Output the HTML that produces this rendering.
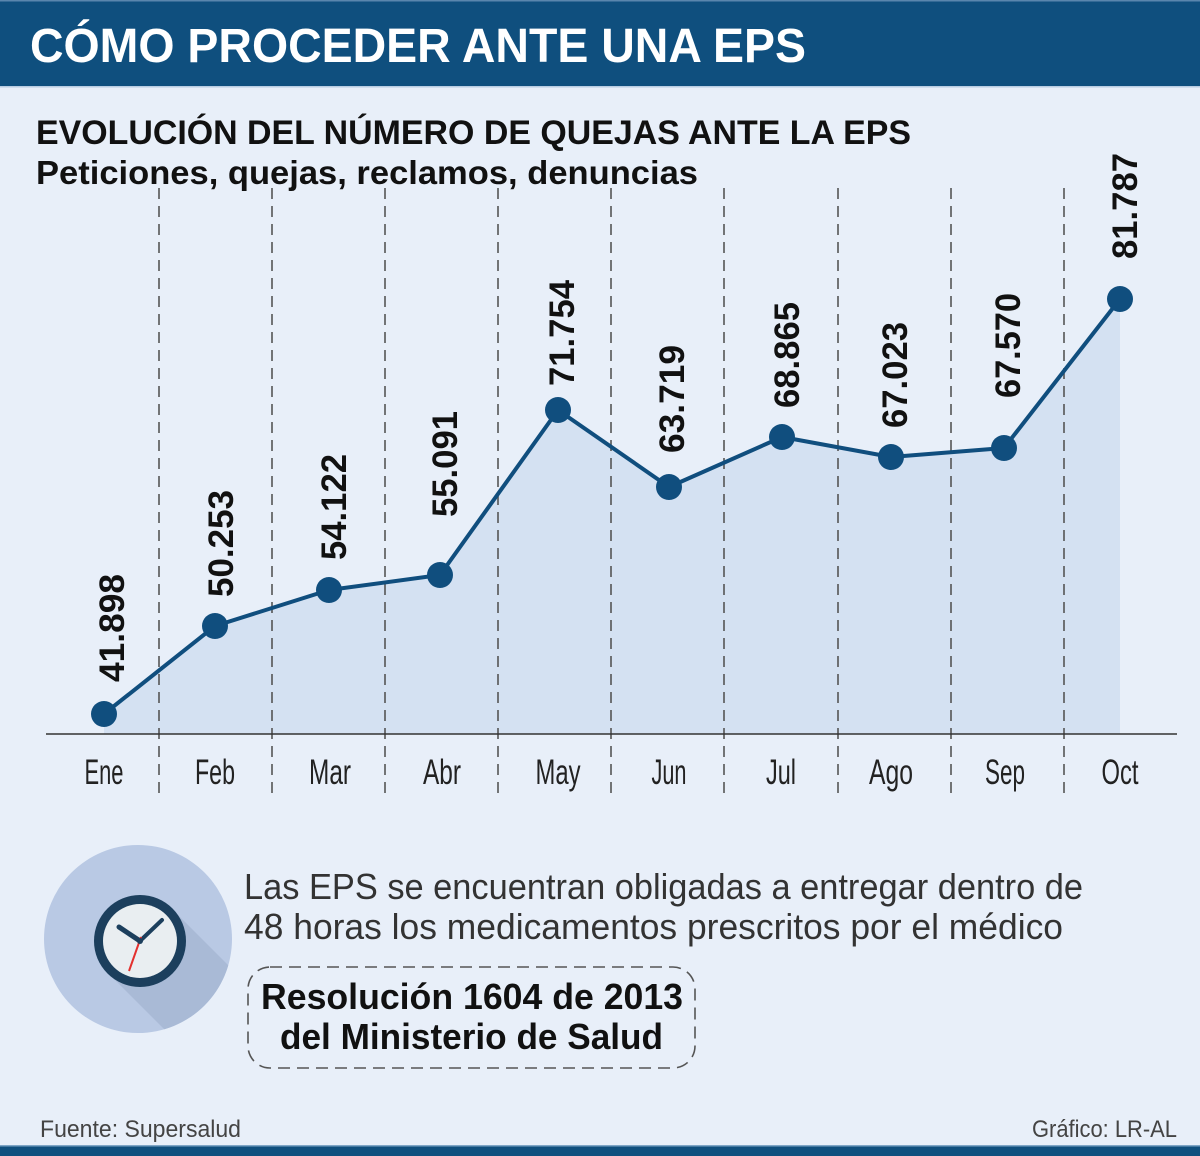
<!DOCTYPE html>
<html><head><meta charset="utf-8"><style>
html,body{margin:0;padding:0;background:#e8eff9;}
svg{display:block;}
text{font-family:"Liberation Sans",sans-serif;}
</style></head><body>
<svg width="1200" height="1156" viewBox="0 0 1200 1156" xmlns="http://www.w3.org/2000/svg">
<rect x="0" y="0" width="1200" height="1156" fill="#e8eff9"/>
<!-- header -->
<rect x="0" y="0" width="1200" height="86" fill="#0f4f7e"/>
<rect x="0" y="0" width="1200" height="1.5" fill="#5a86ad"/>
<rect x="0" y="86" width="1200" height="1.5" fill="#b8cde3"/>
<text x="30" y="62" font-size="48" font-weight="bold" fill="#ffffff" textLength="776" lengthAdjust="spacingAndGlyphs">CÓMO PROCEDER ANTE UNA EPS</text>
<!-- subtitles -->
<text x="36" y="144" font-size="34" font-weight="bold" fill="#111" textLength="875" lengthAdjust="spacingAndGlyphs">EVOLUCIÓN DEL NÚMERO DE QUEJAS ANTE LA EPS</text>
<text x="36" y="184" font-size="33" font-weight="bold" fill="#111" textLength="662" lengthAdjust="spacingAndGlyphs">Peticiones, quejas, reclamos, denuncias</text>
<!-- fill area -->
<polygon points="104,714 215,626 329,590 440,575 558,410 669,487 782,437 891,457 1004,448 1120,299 1120,734 104,734" fill="#d4e1f2"/>
<!-- dashed separators -->
<g stroke="#555" stroke-width="1.6" stroke-dasharray="11 7">
<line x1="159" y1="188" x2="159" y2="800"/>
<line x1="272" y1="188" x2="272" y2="800"/>
<line x1="385" y1="188" x2="385" y2="800"/>
<line x1="498" y1="188" x2="498" y2="800"/>
<line x1="611" y1="188" x2="611" y2="800"/>
<line x1="724" y1="188" x2="724" y2="800"/>
<line x1="838" y1="188" x2="838" y2="800"/>
<line x1="951" y1="188" x2="951" y2="800"/>
<line x1="1064" y1="188" x2="1064" y2="800"/>
</g>
<!-- axis -->
<line x1="46" y1="734" x2="1177" y2="734" stroke="#333" stroke-width="1.6"/>
<!-- series line -->
<polyline points="104,714 215,626 329,590 440,575 558,410 669,487 782,437 891,457 1004,448 1120,299" fill="none" stroke="#104e7e" stroke-width="4" stroke-linejoin="round"/>
<g fill="#104e7e">
<circle cx="104" cy="714" r="13"/>
<circle cx="215" cy="626" r="13"/>
<circle cx="329" cy="590" r="13"/>
<circle cx="440" cy="575" r="13"/>
<circle cx="558" cy="410" r="13"/>
<circle cx="669" cy="487" r="13"/>
<circle cx="782" cy="437" r="13"/>
<circle cx="891" cy="457" r="13"/>
<circle cx="1004" cy="448" r="13"/>
<circle cx="1120" cy="299" r="13"/>
</g>
<!-- value labels -->
<g font-size="35" font-weight="bold" fill="#111">
<text transform="translate(124,682) rotate(-90)" textLength="108" lengthAdjust="spacingAndGlyphs">41.898</text>
<text transform="translate(233,597) rotate(-90)" textLength="107" lengthAdjust="spacingAndGlyphs">50.253</text>
<text transform="translate(346,560) rotate(-90)" textLength="106" lengthAdjust="spacingAndGlyphs">54.122</text>
<text transform="translate(457,517) rotate(-90)" textLength="106" lengthAdjust="spacingAndGlyphs">55.091</text>
<text transform="translate(574,386) rotate(-90)" textLength="106" lengthAdjust="spacingAndGlyphs">71.754</text>
<text transform="translate(684,453) rotate(-90)" textLength="108" lengthAdjust="spacingAndGlyphs">63.719</text>
<text transform="translate(799,408) rotate(-90)" textLength="106" lengthAdjust="spacingAndGlyphs">68.865</text>
<text transform="translate(907,428) rotate(-90)" textLength="106" lengthAdjust="spacingAndGlyphs">67.023</text>
<text transform="translate(1020,398) rotate(-90)" textLength="105" lengthAdjust="spacingAndGlyphs">67.570</text>
<text transform="translate(1137,259) rotate(-90)" textLength="106" lengthAdjust="spacingAndGlyphs">81.787</text>
</g>
<!-- month labels -->
<g font-size="35" fill="#222" text-anchor="middle">
<text x="104" y="784" textLength="39" lengthAdjust="spacingAndGlyphs">Ene</text>
<text x="215" y="784" textLength="40" lengthAdjust="spacingAndGlyphs">Feb</text>
<text x="330" y="784" textLength="42" lengthAdjust="spacingAndGlyphs">Mar</text>
<text x="442" y="784" textLength="38" lengthAdjust="spacingAndGlyphs">Abr</text>
<text x="558" y="784" textLength="45" lengthAdjust="spacingAndGlyphs">May</text>
<text x="669" y="784" textLength="35" lengthAdjust="spacingAndGlyphs">Jun</text>
<text x="781" y="784" textLength="30" lengthAdjust="spacingAndGlyphs">Jul</text>
<text x="891" y="784" textLength="44" lengthAdjust="spacingAndGlyphs">Ago</text>
<text x="1005" y="784" textLength="40" lengthAdjust="spacingAndGlyphs">Sep</text>
<text x="1120" y="784" textLength="37" lengthAdjust="spacingAndGlyphs">Oct</text>
</g>
<!-- clock icon -->
<defs>
<clipPath id="cc"><circle cx="138" cy="939" r="94"/></clipPath>
</defs>
<circle cx="138" cy="939" r="94" fill="#b9c9e4"/>
<g clip-path="url(#cc)">
<polygon points="172,909 300,1037 236,1101 108,973" fill="#a9bad6"/>
</g>
<circle cx="140" cy="941" r="46" fill="#1c3f5d"/>
<circle cx="140" cy="941" r="37" fill="#e9eef1"/>
<line x1="140" y1="941" x2="119" y2="927" stroke="#1c3f5d" stroke-width="5" stroke-linecap="round"/>
<line x1="140" y1="941" x2="162" y2="920" stroke="#1c3f5d" stroke-width="4" stroke-linecap="round"/>
<line x1="141" y1="937" x2="129" y2="971" stroke="#e3302e" stroke-width="2"/>
<circle cx="140" cy="941" r="3" fill="#1c3f5d"/>
<!-- paragraph -->
<text x="244" y="899" font-size="36" fill="#333" textLength="839" lengthAdjust="spacingAndGlyphs">Las EPS se encuentran obligadas a entregar dentro de</text>
<text x="244" y="939" font-size="36" fill="#333" textLength="819" lengthAdjust="spacingAndGlyphs">48 horas los medicamentos prescritos por el médico</text>
<!-- resolution box -->
<rect x="248" y="967" width="447" height="101" rx="22" ry="22" fill="none" stroke="#555" stroke-width="1.6" stroke-dasharray="12 7"/>
<text x="261" y="1009" font-size="36" font-weight="bold" fill="#111" textLength="422" lengthAdjust="spacingAndGlyphs">Resolución 1604 de 2013</text>
<text x="280" y="1049" font-size="36" font-weight="bold" fill="#111" textLength="383" lengthAdjust="spacingAndGlyphs">del Ministerio de Salud</text>
<!-- footer -->
<text x="40" y="1137" font-size="24" fill="#444" textLength="201" lengthAdjust="spacingAndGlyphs">Fuente: Supersalud</text>
<text x="1032" y="1137" font-size="24" fill="#444" textLength="145" lengthAdjust="spacingAndGlyphs">Gráfico: LR-AL</text>
<rect x="0" y="1145" width="1200" height="1.5" fill="#7ea5c6"/>
<rect x="0" y="1146.5" width="1200" height="9.5" fill="#0f4f7e"/>
</svg>
</body></html>
